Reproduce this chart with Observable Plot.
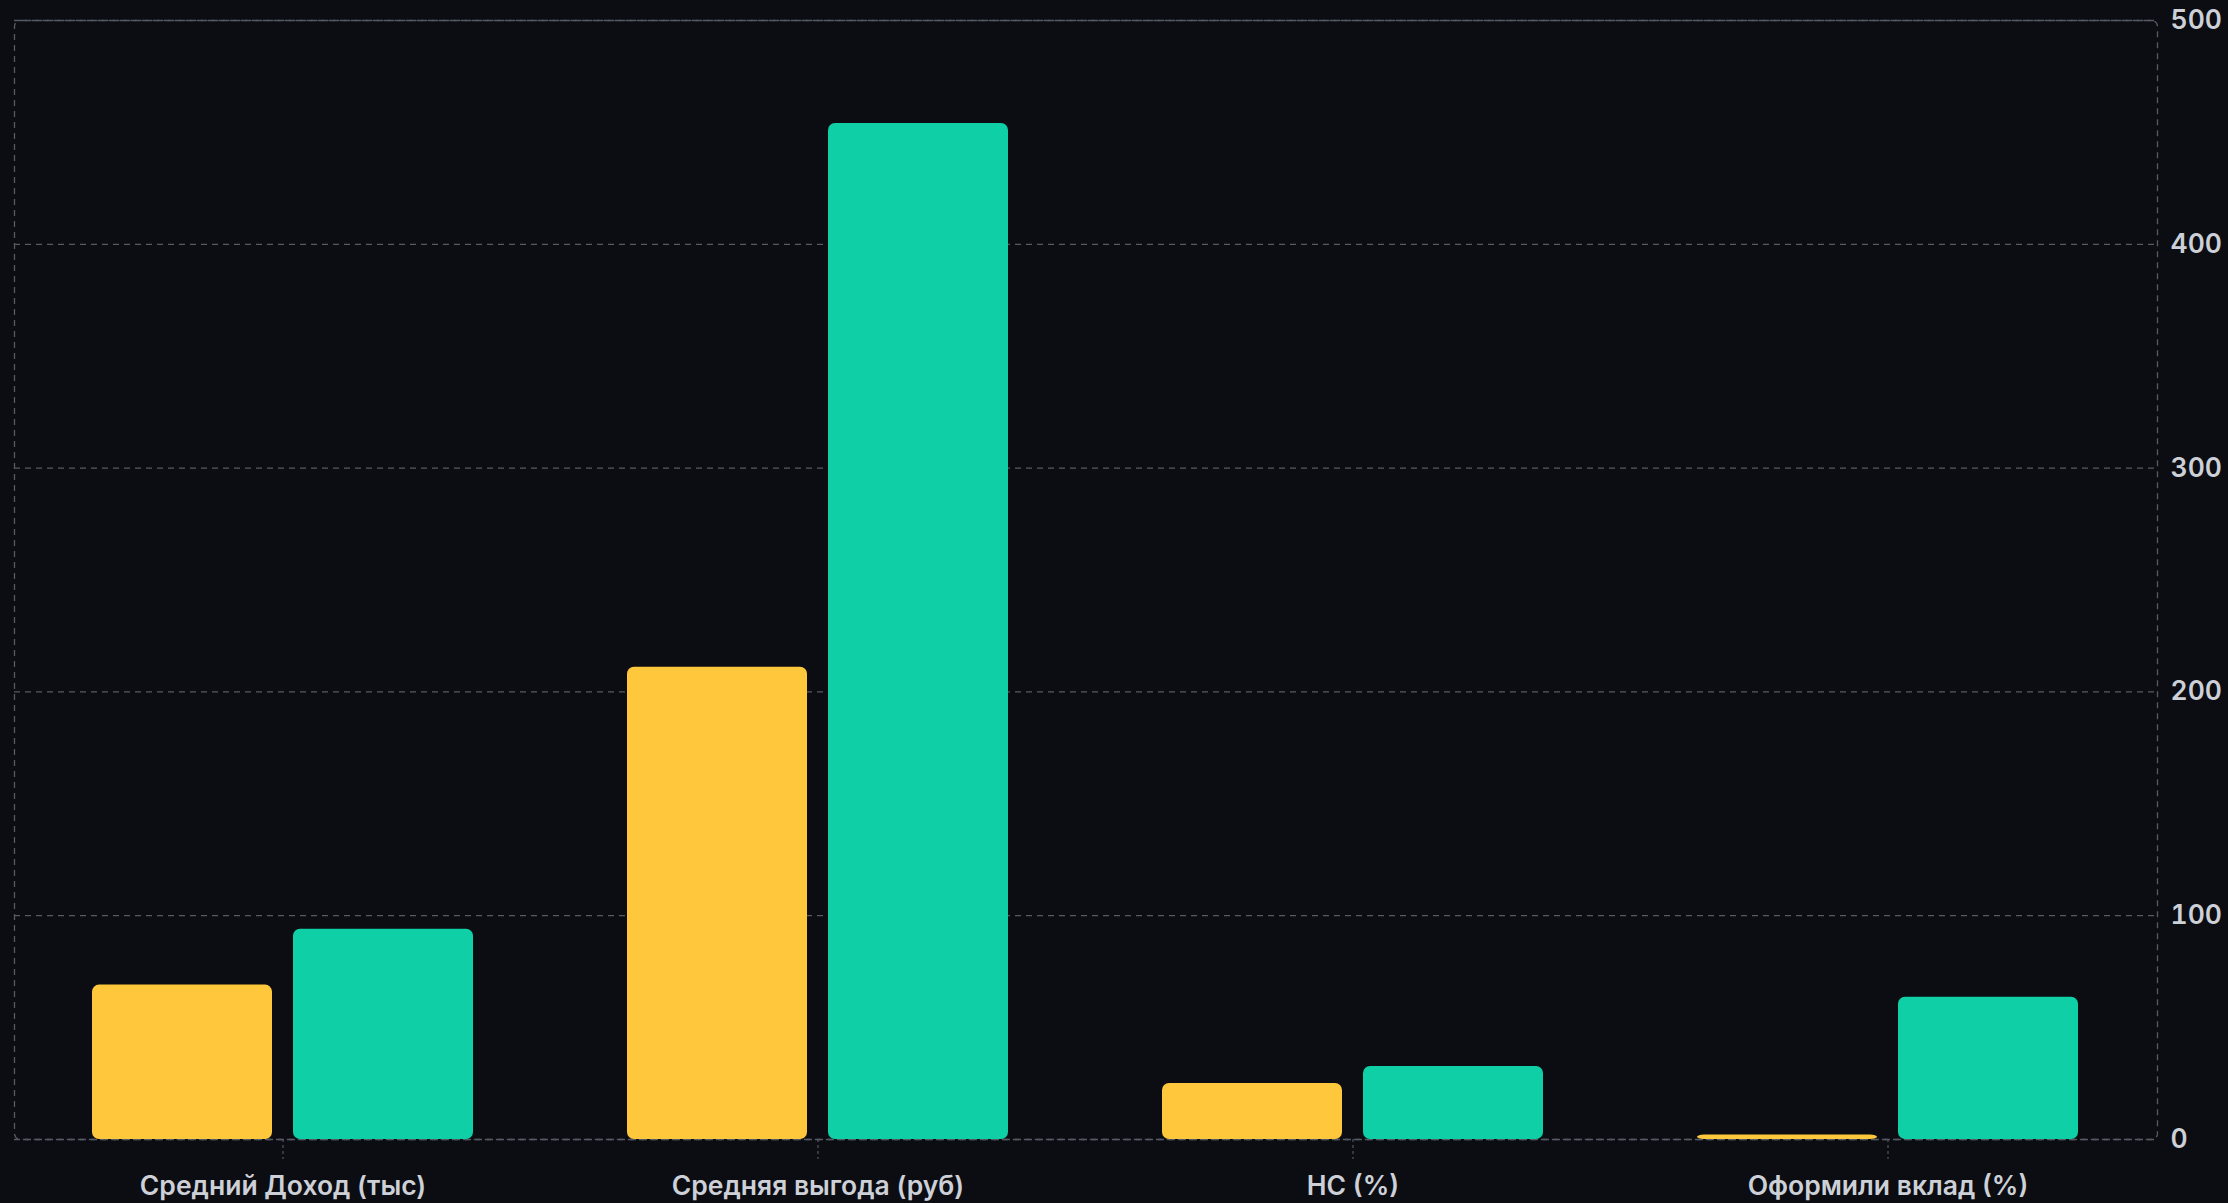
<!DOCTYPE html>
<html>
<head>
<meta charset="utf-8">
<script src="https://cdn.jsdelivr.net/npm/d3@7"></script>
<script src="https://cdn.jsdelivr.net/npm/@observablehq/plot@0.6"></script>
<style>
  html, body { margin: 0; padding: 0; background: #0b0d12; }
  #chart svg { display: block; }
  #chart svg g[aria-label="x-axis tick"] path,
  #chart svg g[aria-label="x-axis"] .tick line { stroke-dasharray: 3,3; }
</style>
</head>
<body>
<div id="chart"></div>
<script>
const categories = ["Средний Доход (тыс)", "Средняя выгода (руб)", "НС (%)", "Оформили вклад (%)"];
const seriesA = [69, 211, 25, 2];      // yellow
const seriesB = [94, 454, 32.6, 63.6]; // green
const yTicks = [0, 100, 200, 300, 400, 500];

const rows = categories.map((c, i) => ({category: c, a: seriesA[i], b: seriesB[i]}));

const W = 2228, H = 1203;
const inset = 201;

const chart = Plot.plot({
  width: W,
  height: H,
  marginLeft: 14,
  marginRight: 71,
  marginTop: 20,
  marginBottom: 64,
  style: {
    background: "#0b0d12",
    color: "#cdd0d7",
    fontFamily: "Inter, 'Noto Sans', sans-serif",
    fontSize: "26.5px",
    fontWeight: 600
  },
  x: {
    domain: categories,
    paddingInner: 0.287,
    paddingOuter: 0.1435,
    label: null,
    tickSize: 20,
    tickPadding: 17
  },
  y: {
    domain: [0, 500],
    ticks: yTicks,
    axis: "right",
    label: null,
    tickSize: 0,
    tickPadding: 13
  },
  marks: [
    Plot.ruleY(yTicks, {stroke: "#555a63", strokeWidth: 1.3, strokeDasharray: "6,5"}),
    Plot.frame({stroke: "#555a63", strokeWidth: 1.3, strokeDasharray: "6,5", rx: 6}),
    Plot.barY(rows, {x: "category", y: "b", fill: "#0ecfa5", insetLeft: inset, rx: 7}),
    Plot.barY(rows, {x: "category", y: "a", fill: "#ffc73b", insetRight: inset, rx: 7})
  ]
});

document.getElementById("chart").appendChild(chart);
chart.querySelectorAll('g[aria-label="x-axis tick"] path, g[aria-label="x-axis"] .tick line').forEach(e => e.setAttribute("stroke", "#5f646d"));
</script>
</body>
</html>
